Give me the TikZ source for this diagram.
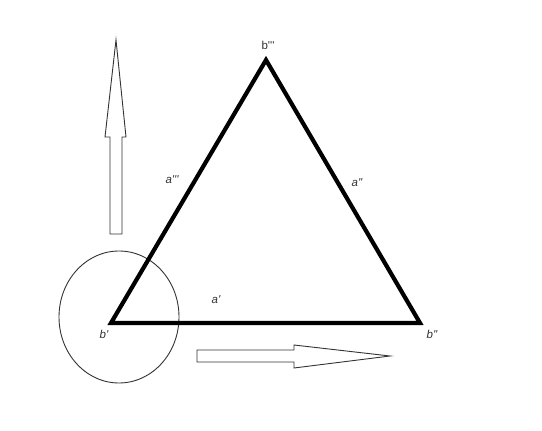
\documentclass[tikz,border=0pt]{standalone}
\usepackage{fontspec}
\setmainfont{Liberation Sans}[Ligatures=TeXOff]
\begin{document}
\begin{tikzpicture}[x=1pt,y=-1pt,
  thick edge/.style={line width=4.2pt, line join=miter},
  thin line/.style={line width=0.9pt, black!80},
  lbl/.style={font=\fontsize{11.5}{13}\selectfont, inner sep=0pt, text=black!80}]
\useasboundingbox[fill=white] (0,0) rectangle (542,431);
% ellipse
\draw[thin line] (119,317) ellipse [x radius=60, y radius=66];
% triangle
\coordinate (b1) at (111,323);
\coordinate (b2) at (420,323);
\coordinate (b3) at (266,60);
\draw[thick edge] (b1) -- (b2) -- (b3) -- cycle;
% up arrow
\draw[thin line, fill=white] (110,234) -- (110,137) -- (105,137) -- (116,40) -- (126,137) -- (122,137) -- (122,234) -- cycle;
% right arrow
\draw[thin line, fill=white] (197,350) -- (294,350) -- (294,345) -- (390,356) -- (294,368) -- (294,362) -- (197,362) -- cycle;
% labels
\node[lbl] (lb3) at (268,45) {b'''};
\node[lbl] (la3) at (172,180) {\itshape a'''};
\node[lbl] (la2) at (357,183) {\itshape a''};
\node[lbl] (la1) at (216,300) {\itshape a'};
\node[lbl] (lb1) at (104,334) {\itshape b'};
\node[lbl] (lb2) at (432,334) {\itshape b''};
\end{tikzpicture}
\end{document}
